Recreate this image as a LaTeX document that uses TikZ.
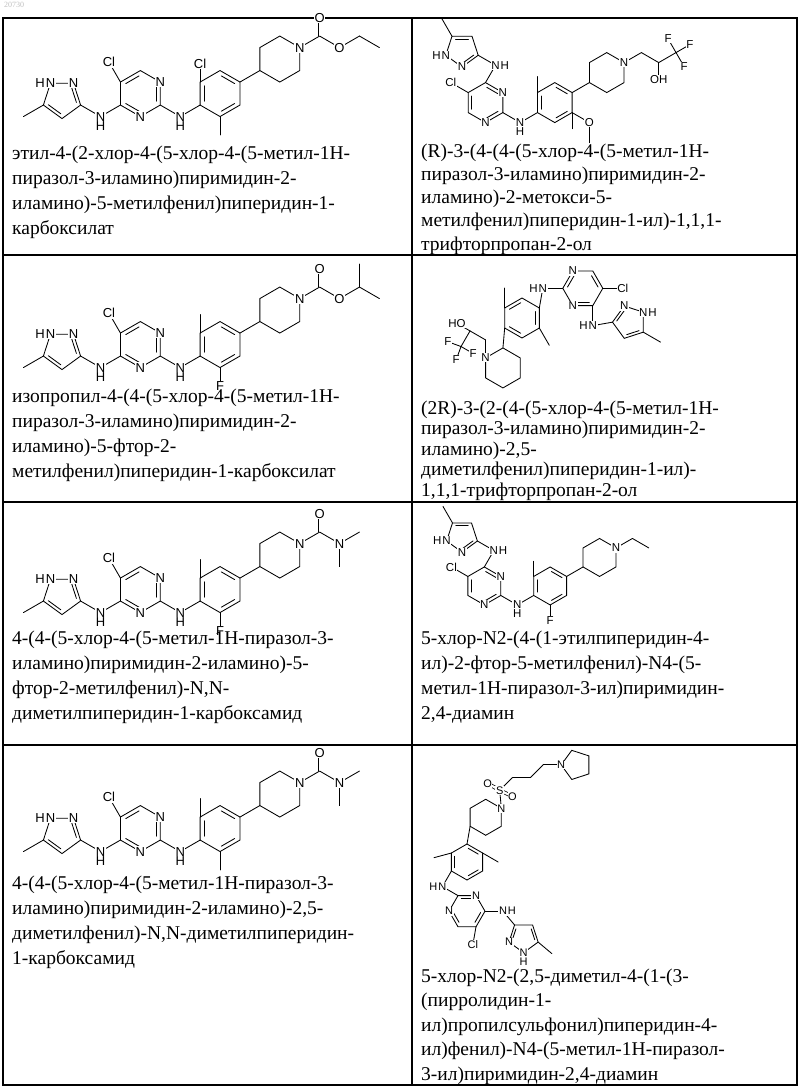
\documentclass[tikz,border=0pt]{standalone}
\usepackage{fontspec}
\setmainfont{Liberation Serif}
\newfontfamily\chemsans{Liberation Sans}
\usetikzlibrary{calc}
\def\afs{13}
\tikzset{tx/.style={anchor=base west,inner sep=0pt,font=\fontsize{19.5}{24}\selectfont},
 grid/.style={line width=1.2pt},
 bond/.style={line width=0.85pt,line cap=round},
 dbond/.style={double,double distance=2.2pt,line width=0.75pt},
 atm/.style={fill=white,inner sep=0.6pt,font=\chemsans\fontsize{\afs}{\afs}\selectfont}}
\newcommand\setL[1]{\def\BL{#1}\pgfmathsetmacro\PR{0.8507*#1}\pgfmathsetmacro\SL{0.8*#1}}
\newcommand\hexa[3]{\foreach \k in {1,...,6}{\coordinate (#1\k) at ($(#2)+({#3+60*(\k-1)}:\BL)$);}%
 \draw[bond] (#11)--(#12)--(#13)--(#14)--(#15)--(#16)--cycle;}
\newcommand\penta[3]{\foreach \k in {1,...,5}{\coordinate (#1\k) at ($(#2)+({#3+72*(\k-1)}:\PR)$);}%
 \draw[bond] (#11)--(#12)--(#13)--(#14)--(#15)--cycle;}
\newcommand\dbl[3]{\draw[bond,shorten <=1.5pt,shorten >=1.5pt] ($(#1)!.2!(#3)$) -- ($(#2)!.2!(#3)$);}
\newcommand\pt[4]{\coordinate (#1) at ($(#2)+(#3:#4)$);}
\newcommand\bd[2]{\draw[bond] (#1)--(#2);}
\newcommand\db[2]{\draw[dbond] (#1)--(#2);}
\newcommand\lab[2]{\node[atm] (#1l) at (#1) {#2};}
\newcommand\labH[3]{\node[atm,label={[atm,fill=none,inner sep=0pt]#3:H}] (#1l) at (#1) {#2};}
\newcommand\frontH[2]{%
 \penta{#1z}{#2}{-18}\dbl{#1z1}{#1z2}{#2}\dbl{#1z4}{#1z5}{#2}%
 \pt{#1me}{#1z4}{210}{\BL}\bd{#1z4}{#1me}%
 \pt{#1n1}{#1z1}{-30}{\BL}\bd{#1z1}{#1n1}%
 \pt{#1a}{#1n1}{30}{\BL}\pt{#1ac}{#1a}{30}{\BL}\bd{#1n1}{#1a}%
 \hexa{#1y}{#1ac}{30}\dbl{#1y2}{#1y3}{#1ac}\dbl{#1y1}{#1y6}{#1ac}\dbl{#1y4}{#1y5}{#1ac}%
 \pt{#1cl}{#1y3}{120}{\BL}\bd{#1y3}{#1cl}%
 \pt{#1n2}{#1y6}{-30}{\BL}\bd{#1y6}{#1n2}%
 \lab{#1z2}{N}\labH{#1z3}{N}{left}\labH{#1n1}{N}{below}\lab{#1y1}{N}\lab{#1y5}{N}\lab{#1cl}{Cl}}
\newcommand\frontV[2]{%
 \penta{#1z}{#2}{-18}\dbl{#1z1}{#1z5}{#2}\dbl{#1z2}{#1z3}{#2}%
 \pt{#1me}{#1z3}{120}{\BL}\bd{#1z3}{#1me}%
 \pt{#1n1}{#1z1}{-30}{\BL}\bd{#1z1}{#1n1}%
 \pt{#1a}{#1n1}{-120}{\BL}\pt{#1ac}{#1a}{-90}{\BL}\bd{#1n1}{#1a}%
 \hexa{#1y}{#1ac}{30}\dbl{#1y2}{#1y1}{#1ac}\dbl{#1y3}{#1y4}{#1ac}\dbl{#1y5}{#1y6}{#1ac}%
 \pt{#1cl}{#1y3}{150}{\BL}\bd{#1y3}{#1cl}%
 \pt{#1n2}{#1y6}{-30}{\BL}\bd{#1y6}{#1n2}%
 \labH{#1z4}{N}{left}\lab{#1z5}{N}\labH{#1n1}{N}{right}\lab{#1y1}{N}\lab{#1y5}{N}\lab{#1cl}{Cl}}
\newcommand\back[5]{%
 \pt{#1b}{#1n2}{30}{\BL}\bd{#1n2}{#1b}\pt{#1bc}{#1b}{30}{\BL}%
 \hexa{#1x}{#1bc}{30}\dbl{#1x4}{#1x3}{#1bc}\dbl{#1x2}{#1x1}{#1bc}\dbl{#1x6}{#1x5}{#1bc}%
 \pt{#1ts}{#1x3}{90}{\SL}\bd{#1x3}{#1ts}%
 \pt{#1bs}{#1x#3}{#5}{\SL}\bd{#1x#3}{#1bs}%
 \pt{#1p}{#1x1}{30}{\BL}\bd{#1x1}{#1p}\pt{#1pc}{#1p}{30}{\BL}%
 \hexa{#1q}{#1pc}{30}%
 \labH{#1n2}{N}{below}%
 \if\relax\detokenize{#2}\relax\else\lab{#1ts}{#2}\fi
 \if\relax\detokenize{#4}\relax\else\lab{#1bs}{#4}\fi}
% prefix, x, first baseline, step, lines
\newcommand\tlines[5]{\foreach \l [count=\i from 0] in {#5} \node[tx] (#1\i) at (#2,{-(#3+#4*\i)}) {\l};}
\begin{document}
\begin{tikzpicture}[x=1pt,y=1pt]
\useasboundingbox (0,-1088) rectangle (800,0);
\node[anchor=north west,inner sep=0pt,text=black!25,font=\fontsize{8}{9}\selectfont] (wm) at (4,-2) {20730};
\draw[grid] (3,-18) rectangle (797,-1085);
\draw[grid] (412,-18) -- (412,-1085);
\draw[grid] (3,-255) -- (797,-255);
\draw[grid] (3,-502) -- (797,-502);
\draw[grid] (3,-745) -- (797,-745);
% ---------- m1
\setL{23}\def\afs{13}
\coordinate (m1c) at (62,-99);
\frontH{m1}{m1c}\back{m1}{Cl}{5}{}{-90}
\pt{m1k}{m1q1}{30}{\BL}\bd{m1q1}{m1k}\pt{m1o1}{m1k}{90}{\SL}\db{m1k}{m1o1}
\pt{m1o2}{m1k}{-30}{\BL}\bd{m1k}{m1o2}\pt{m1e1}{m1o2}{30}{\BL}\bd{m1o2}{m1e1}\pt{m1e2}{m1e1}{-30}{\BL}\bd{m1e1}{m1e2}
\lab{m1q1}{N}\lab{m1o1}{O}\lab{m1o2}{O}
% ---------- m3
\coordinate (m3c) at (62,-350);
\frontH{m3}{m3c}\back{m3}{}{5}{F}{-90}
\pt{m3k}{m3q1}{30}{\BL}\bd{m3q1}{m3k}\pt{m3o1}{m3k}{90}{\SL}\db{m3k}{m3o1}
\pt{m3o2}{m3k}{-30}{\BL}\bd{m3k}{m3o2}\pt{m3e1}{m3o2}{30}{\BL}\bd{m3o2}{m3e1}\pt{m3e2}{m3e1}{-30}{\BL}\bd{m3e1}{m3e2}
\pt{m3e3}{m3e1}{90}{\BL}\bd{m3e1}{m3e3}
\lab{m3q1}{N}\lab{m3o1}{O}\lab{m3o2}{O}
% ---------- m5
\coordinate (m5c) at (62,-595);
\frontH{m5}{m5c}\back{m5}{}{5}{F}{-90}
\pt{m5k}{m5q1}{30}{\BL}\bd{m5q1}{m5k}\pt{m5o1}{m5k}{90}{\SL}\db{m5k}{m5o1}
\pt{m5o2}{m5k}{-30}{\BL}\bd{m5k}{m5o2}\pt{m5e1}{m5o2}{30}{\BL}\bd{m5o2}{m5e1}\pt{m5e2}{m5o2}{-90}{\BL}\bd{m5o2}{m5e2}
\lab{m5q1}{N}\lab{m5o1}{O}\lab{m5o2}{N}
% ---------- m7
\coordinate (m7c) at (62,-834);
\frontH{m7}{m7c}\back{m7}{}{5}{}{-90}
\pt{m7k}{m7q1}{30}{\BL}\bd{m7q1}{m7k}\pt{m7o1}{m7k}{90}{\SL}\db{m7k}{m7o1}
\pt{m7o2}{m7k}{-30}{\BL}\bd{m7k}{m7o2}\pt{m7e1}{m7o2}{30}{\BL}\bd{m7o2}{m7e1}\pt{m7e2}{m7o2}{-90}{\BL}\bd{m7o2}{m7e2}
\lab{m7q1}{N}\lab{m7o1}{O}\lab{m7o2}{N}
% ---------- m2
\setL{20}\def\afs{11.5}
\coordinate (m2c) at (462,-50);
\frontV{m2}{m2c}\back{m2}{}{6}{}{-90}
\pt{m2o}{m2x6}{-30}{\BL}\bd{m2x6}{m2o}\pt{m2om}{m2o}{-90}{\BL}\bd{m2o}{m2om}\lab{m2o}{O}
\pt{m2k}{m2q1}{30}{\BL}\bd{m2q1}{m2k}\pt{m2h}{m2k}{-30}{\BL}\bd{m2k}{m2h}
\pt{m2oh}{m2h}{-90}{17}\bd{m2h}{m2oh}\pt{m2f}{m2h}{30}{\BL}\bd{m2h}{m2f}
\pt{m2f1}{m2f}{120}{16}\pt{m2f2}{m2f}{30}{16}\pt{m2f3}{m2f}{-60}{16}\bd{m2f}{m2f1}\bd{m2f}{m2f2}\bd{m2f}{m2f3}
\lab{m2q1}{N}\lab{m2oh}{OH}\lab{m2f1}{F}\lab{m2f2}{F}\lab{m2f3}{F}
% ---------- m6
\setL{19}
\coordinate (m6c) at (462,-536);
\frontV{m6}{m6c}\back{m6}{}{5}{F}{-90}
\pt{m6k}{m6q1}{30}{\BL}\bd{m6q1}{m6k}\pt{m6e}{m6k}{-30}{\BL}\bd{m6k}{m6e}
\lab{m6q1}{N}
% ---------- m4
\setL{20}\def\afs{11.5}
\coordinate (m4xc) at (522,-318);
\hexa{m4x}{m4xc}{30}\dbl{m4x2}{m4x3}{m4xc}\dbl{m4x4}{m4x5}{m4xc}\dbl{m4x6}{m4x1}{m4xc}
\pt{m4m1}{m4x3}{90}{\BL}\bd{m4x3}{m4m1}\pt{m4m2}{m4x6}{-60}{\BL}\bd{m4x6}{m4m2}
\pt{m4n}{m4x1}{80}{\BL}\bd{m4x1}{m4n}\pt{m4c2}{m4n}{0}{\BL}\bd{m4n}{m4c2}\pt{m4yc}{m4c2}{0}{\BL}
\hexa{m4y}{m4yc}{0}\dbl{m4y1}{m4y2}{m4yc}\dbl{m4y3}{m4y4}{m4yc}\dbl{m4y5}{m4y6}{m4yc}
\pt{m4cl}{m4y1}{0}{\BL}\bd{m4y1}{m4cl}
\pt{m4n2}{m4y6}{-90}{\BL}\bd{m4y6}{m4n2}\pt{m4c3}{m4n2}{10}{\BL}\bd{m4n2}{m4c3}\pt{m4zc}{m4c3}{0}{\PR}
\penta{m4z}{m4zc}{180}\dbl{m4z1}{m4z5}{m4zc}\dbl{m4z2}{m4z3}{m4zc}
\pt{m4zm}{m4z3}{-30}{\BL}\bd{m4z3}{m4zm}
\pt{m4p}{m4x4}{-95}{\BL}\bd{m4x4}{m4p}\pt{m4qc}{m4p}{-90}{\BL}\hexa{m4q}{m4qc}{30}
\pt{m4k}{m4q3}{90}{18}\bd{m4q3}{m4k}\pt{m4h}{m4k}{150}{18}\bd{m4k}{m4h}
\pt{m4oh}{m4h}{150}{15}\bd{m4h}{m4oh}\pt{m4f}{m4h}{-120}{18}\bd{m4h}{m4f}
\pt{m4f1}{m4f}{160}{14}\pt{m4f2}{m4f}{-30}{14}\pt{m4f3}{m4f}{-110}{14}\bd{m4f}{m4f1}\bd{m4f}{m4f2}\bd{m4f}{m4f3}
\labH{m4n}{N}{left}\lab{m4y3}{N}\lab{m4y5}{N}\lab{m4cl}{Cl}\labH{m4n2}{N}{left}
\lab{m4z5}{N}\labH{m4z4}{N}{right}\lab{m4q3}{N}\lab{m4oh}{HO}\lab{m4f1}{F}\lab{m4f2}{F}\lab{m4f3}{F}
% ---------- m8
\setL{18}\def\afs{11}
\coordinate (m8xc) at (467,-862);
\hexa{m8x}{m8xc}{30}\dbl{m8x1}{m8x2}{m8xc}\dbl{m8x3}{m8x4}{m8xc}\dbl{m8x5}{m8x6}{m8xc}
\pt{m8m1}{m8x3}{195}{\BL}\bd{m8x3}{m8m1}\pt{m8m2}{m8x1}{-30}{\BL}\bd{m8x1}{m8m2}
\pt{m8p}{m8x2}{80}{\BL}\bd{m8x2}{m8p}\pt{m8qc}{m8p}{30}{\BL}\hexa{m8q}{m8qc}{30}
\pt{m8s}{m8q1}{95}{\BL}\bd{m8q1}{m8s}\pt{m8o1}{m8s}{150}{14}\db{m8s}{m8o1}\pt{m8o2}{m8s}{-25}{14}\db{m8s}{m8o2}
\pt{m8c1}{m8s}{45}{\BL}\bd{m8s}{m8c1}\pt{m8c2}{m8c1}{0}{\BL}\bd{m8c1}{m8c2}\pt{m8c3}{m8c2}{45}{\BL}\bd{m8c2}{m8c3}
\pt{m8np}{m8c3}{0}{\BL}\bd{m8c3}{m8np}\pt{m8rc}{m8np}{0}{\PR}\penta{m8r}{m8rc}{180}
\pt{m8hn}{m8x4}{-120}{\BL}\bd{m8x4}{m8hn}\pt{m8c4}{m8hn}{-30}{\BL}\bd{m8hn}{m8c4}\pt{m8yc}{m8c4}{-60}{\BL}
\hexa{m8y}{m8yc}{0}\dbl{m8y3}{m8y2}{m8yc}\dbl{m8y1}{m8y6}{m8yc}\dbl{m8y5}{m8y4}{m8yc}
\pt{m8cl}{m8y6}{-100}{\BL}\bd{m8y6}{m8cl}
\pt{m8nh}{m8y1}{0}{\BL}\bd{m8y1}{m8nh}\pt{m8c5}{m8nh}{-50}{\BL}\bd{m8nh}{m8c5}\pt{m8zc}{m8c5}{-54}{\PR}
\penta{m8z}{m8zc}{126}\dbl{m8z1}{m8z2}{m8zc}\dbl{m8z4}{m8z5}{m8zc}
\pt{m8zm}{m8z4}{-40}{\BL}\bd{m8z4}{m8zm}
\lab{m8q1}{N}\lab{m8s}{S}\lab{m8o1}{O}\lab{m8o2}{O}\lab{m8r1}{N}
\labH{m8hn}{N}{left}\lab{m8y2}{N}\lab{m8y4}{N}\lab{m8cl}{Cl}\labH{m8nh}{N}{right}
\lab{m8z2}{N}\labH{m8z3}{N}{below}
% ---------- texts
\tlines{a}{12}{159}{25}{{этил-4-(2-хлор-4-(5-хлор-4-(5-метил-1Н-},{пиразол-3-иламино)пиримидин-2-},{иламино)-5-метилфенил)пиперидин-1-},{карбоксилат}}
\tlines{b}{421}{157}{23.3}{{(R)-3-(4-(4-(5-хлор-4-(5-метил-1Н-},{пиразол-3-иламино)пиримидин-2-},{иламино)-2-метокси-5-},{метилфенил)пиперидин-1-ил)-1,1,1-},{трифторпропан-2-ол}}
\tlines{c}{12}{402}{25}{{изопропил-4-(4-(5-хлор-4-(5-метил-1Н-},{пиразол-3-иламино)пиримидин-2-},{иламино)-5-фтор-2-},{метилфенил)пиперидин-1-карбоксилат}}
\tlines{d}{421}{414}{20.5}{{(2R)-3-(2-(4-(5-хлор-4-(5-метил-1Н-},{пиразол-3-иламино)пиримидин-2-},{иламино)-2,5-},{диметилфенил)пиперидин-1-ил)-},{1,1,1-трифторпропан-2-ол}}
\tlines{e}{12}{644}{25}{{4-(4-(5-хлор-4-(5-метил-1Н-пиразол-3-},{иламино)пиримидин-2-иламино)-5-},{фтор-2-метилфенил)-N,N-},{диметилпиперидин-1-карбоксамид}}
\tlines{f}{421}{644}{25}{{5-хлор-N2-(4-(1-этилпиперидин-4-},{ил)-2-фтор-5-метилфенил)-N4-(5-},{метил-1Н-пиразол-3-ил)пиримидин-},{2,4-диамин}}
\tlines{g}{12}{889}{25}{{4-(4-(5-хлор-4-(5-метил-1Н-пиразол-3-},{иламино)пиримидин-2-иламино)-2,5-},{диметилфенил)-N,N-диметилпиперидин-},{1-карбоксамид}}
\tlines{h}{421}{982}{24.5}{{5-хлор-N2-(2,5-диметил-4-(1-(3-},{(пирролидин-1-},{ил)пропилсульфонил)пиперидин-4-},{ил)фенил)-N4-(5-метил-1Н-пиразол-},{3-ил)пиримидин-2,4-диамин}}
\end{tikzpicture}
\end{document}
